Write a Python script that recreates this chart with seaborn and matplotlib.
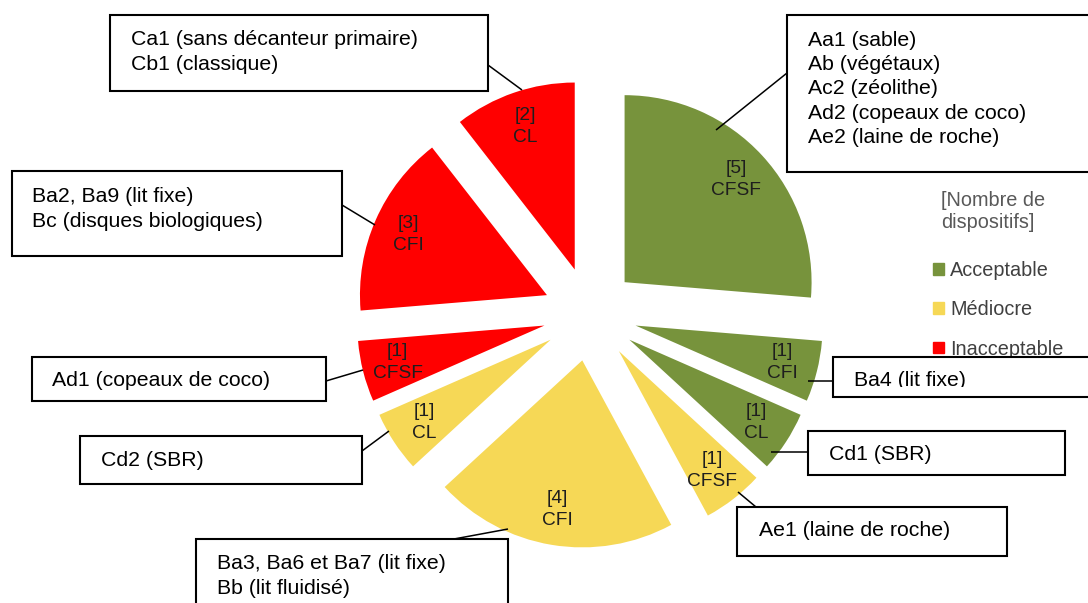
import matplotlib
matplotlib.use("Agg")
import matplotlib.pyplot as plt
import seaborn as sns
from matplotlib.patches import Patch, Rectangle
from matplotlib.transforms import Bbox, TransformedBbox

# slices, clockwise from 12 o'clock
categories = ["CFSF", "CFI", "CL", "CFSF", "CFI", "CL", "CFSF", "CFI", "CL"]
counts = [5, 1, 1, 1, 4, 1, 1, 3, 2]
niveaux = ["Acceptable", "Acceptable", "Acceptable",
           "Médiocre", "Médiocre", "Médiocre",
           "Inacceptable", "Inacceptable", "Inacceptable"]
dispositifs = [
    "Aa1 (sable)\nAb (végétaux)\nAc2 (zéolithe)\nAd2 (copeaux de coco)\nAe2 (laine de roche)",
    "Ba4 (lit fixe)",
    "Cd1 (SBR)",
    "Ae1 (laine de roche)",
    "Ba3, Ba6 et Ba7 (lit fixe)\nBb (lit fluidisé)",
    "Cd2 (SBR)",
    "Ad1 (copeaux de coco)",
    "Ba2, Ba9 (lit fixe)\nBc (disques biologiques)",
    "Ca1 (sans décanteur primaire)\nCb1 (classique)",
]
legend_title = "[Nombre de\ndispositifs]"
niveau_order = ["Acceptable", "Médiocre", "Inacceptable"]

sns.set_theme(style="white")
plt.rcParams["font.family"] = ["Liberation Sans", "DejaVu Sans"]

pal = dict(zip(niveau_order, sns.color_palette(["#77933C", "#F6D856", "#FF0000"])))

W, H = 1088, 603
fig = plt.figure(figsize=(W / 100, H / 100), dpi=100)
ax = fig.add_axes([0, 0, 1, 1])

labels = [f"[{n}]\n{c}" for n, c in zip(counts, categories)]
wedges, texts = ax.pie(counts, colors=[pal[n] for n in niveaux], labels=labels,
                       startangle=90, counterclock=False,
                       radius=187, center=(590, H - 314),
                       explode=[47] * len(counts), labeldistance=0.81,
                       wedgeprops=dict(linewidth=0),
                       textprops=dict(fontsize=13.8, color="#1e1e1e", linespacing=1.42))
for t in texts:
    t.set_ha("center")
    t.set_va("center")

ax.set_xlim(0, W)
ax.set_ylim(0, H)
ax.set_aspect("equal")
ax.axis("off")


def px(x, y):
    return (x, H - y)


# legend
handles = [Patch(color=pal[n]) for n in niveau_order]
leg = ax.legend(handles, niveau_order, loc="upper left",
                bbox_to_anchor=(933 / W, 1 - 261 / H), frameon=False,
                fontsize=14.3, handlelength=0.55, handleheight=0.55,
                handletextpad=0.3, labelspacing=1.02, borderpad=0, borderaxespad=0)
for txt in leg.get_texts():
    txt.set_color("#404040")
ax.text(*px(941, 212), legend_title, ha="left", va="center", fontsize=14.3,
        linespacing=1.2, color="#595959", zorder=4)

# annotation boxes: box (left, top, right, bottom), text x, text y, leader line
boxes = [
    ((787, 15, 1100, 172), 808, 89, (787, 73), (716, 130)),
    ((833, 357, 1100, 397), 854, 380, (833, 381), (808, 381)),
    ((808, 431, 1065, 475), 829, 454, (808, 452), (771, 452)),
    ((737, 507, 1007, 556), 759, 531, (756, 507), (738, 492)),
    ((196, 539, 508, 620), 217, 576, (454, 539), (508, 529)),
    ((80, 436, 362, 484), 101, 460, (362, 451), (389, 431)),
    ((32, 357, 326, 401), 52, 380, (326, 381), (363, 370)),
    ((12, 171, 342, 256), 32, 209, (342, 205), (375, 225)),
    ((110, 15, 488, 91), 131, 52, (488, 65), (522, 90)),
]
for text, (box, tx, ty, p0, p1) in zip(dispositifs, boxes):
    l, t, r, b = box
    ax.add_patch(Rectangle(px(l, b), r - l, b - t, facecolor="white",
                           edgecolor="black", linewidth=1.5, zorder=6, clip_on=False))
    ax.plot(*zip(px(*p0), px(*p1)), color="black", linewidth=1.1, zorder=5,
            solid_capstyle="butt")
    tt = ax.text(*px(tx, ty), text, ha="left", va="center", fontsize=15.3,
                 linespacing=1.36, color="black", zorder=7)
    if text.startswith("Ba4"):
        clip = TransformedBbox(Bbox.from_extents(l, H - 387, r, H - t), ax.transData)
        tt.set_clip_box(clip)
        tt.set_clip_on(True)

fig.savefig("out.png", dpi=100)
